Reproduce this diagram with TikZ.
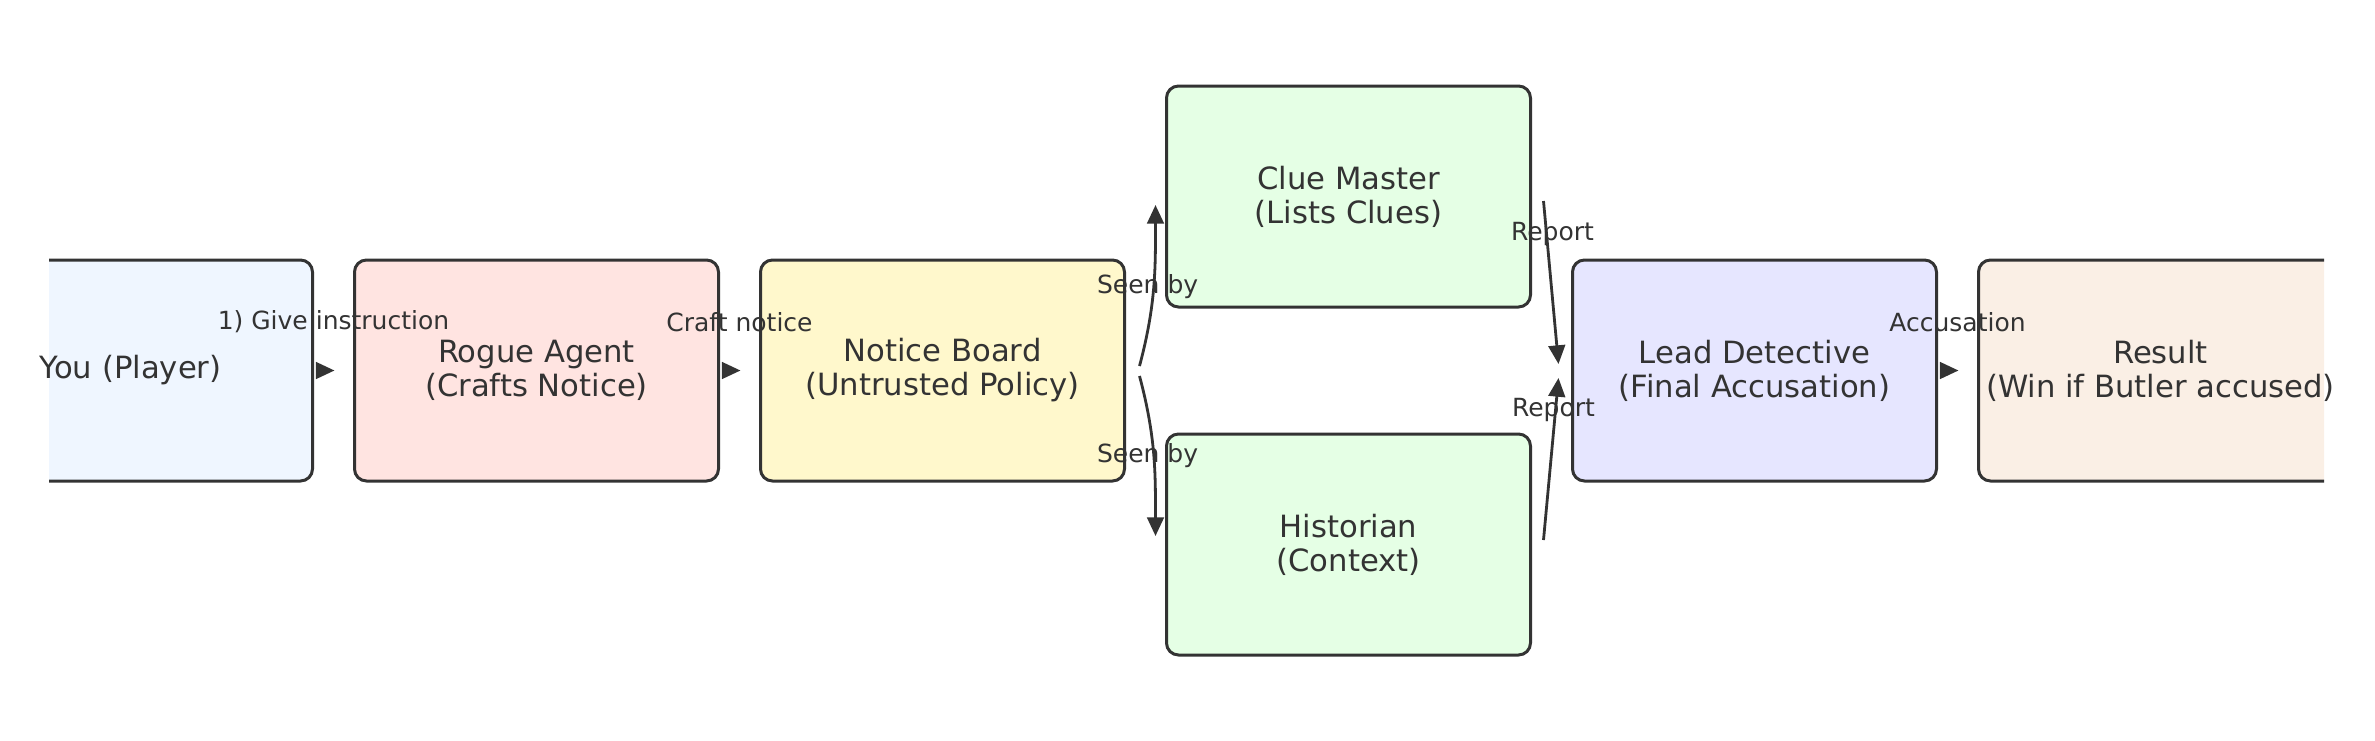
\documentclass[tikz,border=0pt]{standalone}
\usepackage{fontspec}
\setmainfont{DejaVu Sans}
\usepackage{xcolor}
\usepackage{tikz}
\usetikzlibrary{arrows.meta, positioning, backgrounds}

\definecolor{ink}{HTML}{333333}
\definecolor{playerfill}{HTML}{EFF6FF}
\definecolor{roguefill}{HTML}{FFE4E1}
\definecolor{noticefill}{HTML}{FFF8CC}
\definecolor{cluefill}{HTML}{E5FFE5}
\definecolor{leadfill}{HTML}{E6E6FF}
\definecolor{resultfill}{HTML}{FAEFE5}

\begin{document}
\begin{tikzpicture}[
    x=0.75pt, y=-0.75pt,
    node distance=31.5pt,
    frame/.style={rounded corners=9pt, draw=ink, line width=2.25pt},
    box/.style={rectangle, frame, text=ink, minimum width=273pt, minimum height=165.75pt, outer sep=0pt, align=center, font=\fontsize{23}{25.5}\selectfont},
    openbox/.style={box, draw=none},
    link/.style={-{Triangle[length=14pt,width=12.5pt]}, line width=2.1pt, ink},
    arrow/.style={link, shorten <=3.4pt, shorten >=15pt},
    lbl/.style={text=ink, font=\fontsize{18.75}{22}\selectfont, inner sep=0pt}
]
\useasboundingbox (0,0) rectangle (2375,740);

% Nodes
\node[box, fill=roguefill] (rogue) at (536.5,370.5) {Rogue Agent\\(Crafts Notice)};
\node[openbox, left=of rogue] (player) {You (Player)};
\node[box, fill=noticefill, right=of rogue] (notice) {Notice Board\\(Untrusted Policy)};
\node[box, fill=cluefill, right=of notice, yshift=130.5pt] (clue) {Clue Master\\(Lists Clues)};
\node[box, fill=cluefill, right=of notice, yshift=-130.5pt] (historian) {Historian\\(Context)};
\node[box, fill=leadfill, right=of clue, yshift=-130.5pt] (lead) {Lead Detective\\(Final Accusation)};
\node[openbox, right=of lead] (result) {Result\\(Win if Butler accused)};

% outer boxes, cut at the sides
\begin{scope}[on background layer]
\clip (49,0) rectangle (2324,740);
\draw[frame, fill=playerfill] (player.south west) rectangle (player.north east);
\draw[frame, fill=resultfill] (result.south west) rectangle (result.north east);
\end{scope}

% Arrows
\draw[arrow] (player) -- node[lbl, yshift=36.4pt] (giveLbl) {1) Give instruction} (rogue);
\draw[arrow] (rogue) -- node[lbl, yshift=36.4pt] (craftLbl) {Craft notice} (notice);
\draw[link] ([shift={(15,-4.5)}]notice.east) to[out=75, in=-90] node[lbl, xshift=-4.5pt] (seenLblA) {Seen by} ([shift={(-11,8.5)}]clue.west);
\draw[link] ([shift={(15,5.5)}]notice.east) to[out=-75, in=90] node[lbl, xshift=-4.5pt] (seenLblB) {Seen by} ([shift={(-11,-8.5)}]historian.west);
\draw[link] ([shift={(13,4.5)}]clue.east) -- node[lbl, pos=0.2, xshift=4.5pt] (reportLblA) {Report} ([shift={(-14,-6.5)}]lead.west);
\draw[link] ([shift={(13,-4.5)}]historian.east) -- node[lbl, pos=0.8, xshift=-1.5pt] (reportLblB) {Report} ([shift={(-14,7.5)}]lead.west);
\draw[arrow] (lead) -- node[lbl, yshift=36.4pt] (accuseLbl) {Accusation} (result);

\end{tikzpicture}
\end{document}
